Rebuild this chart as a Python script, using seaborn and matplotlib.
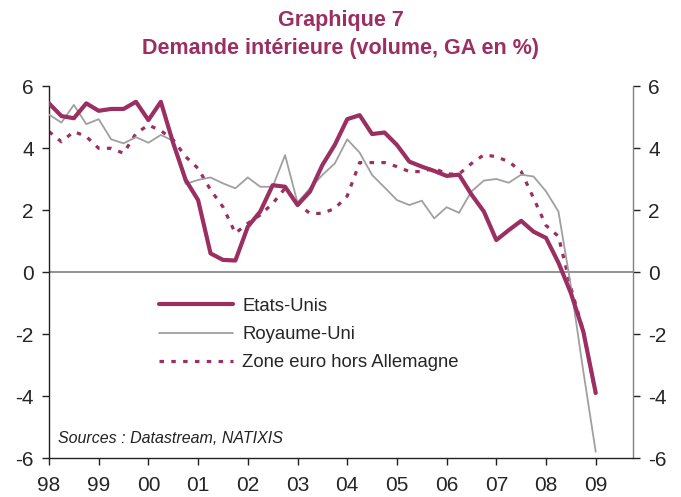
import numpy as np
import pandas as pd
import matplotlib
matplotlib.use("Agg")
import matplotlib.pyplot as plt
import seaborn as sns

# Quarterly data, 1998 Q1 -> 2009 Q1 (GA en %)
quarters = np.arange(45) * 0.25 + 1998.0

etats_unis = [5.44, 5.03, 4.96, 5.44,
              5.20, 5.26, 5.26, 5.49,
              4.90, 5.49, 4.15, 2.97,
              2.32, 0.60, 0.39, 0.37,
              1.46, 1.95, 2.80, 2.75,
              2.16, 2.59, 3.45, 4.10,
              4.93, 5.06, 4.45, 4.50,
              4.10, 3.56, 3.40, 3.26,
              3.10, 3.14, 2.50, 1.95,
              1.03, 1.35, 1.65, 1.30,
              1.10, 0.30, -0.68, -1.92,
              -3.90]

royaume_uni = [5.08, 4.82, 5.39, 4.77,
               4.93, 4.28, 4.15, 4.35,
               4.17, 4.42, 4.23, 2.84,
               2.97, 3.05, 2.86, 2.70,
               3.05, 2.75, 2.75, 3.77,
               2.24, 2.70, 3.13, 3.50,
               4.28, 3.85, 3.13, 2.73,
               2.32, 2.16, 2.30, 1.73,
               2.09, 1.91, 2.60, 2.95,
               3.00, 2.88, 3.14, 3.08,
               2.60, 1.95, -0.45, -3.20,
               -5.80]

zone_euro = [4.53, 4.20, 4.53, 4.37,
             3.99, 3.99, 3.83, 4.47,
             4.74, 4.56, 4.26, 3.72,
             3.34, 2.65, 2.10, 1.25,
             1.57, 1.84, 2.21, 2.70,
             2.20, 1.89, 1.89, 2.05,
             2.45, 3.53, 3.53, 3.53,
             3.40, 3.24, 3.24, 3.35,
             3.16, 3.16, 3.50, 3.78,
             3.72, 3.56, 3.24, 2.38,
             1.50, 1.15, -0.50, -1.90,
             -3.95]

year_ticks = list(range(1998, 2010))
year_labels = ["98", "99", "00", "01", "02", "03", "04", "05", "06", "07", "08", "09"]

MAROON = "#9B2F62"
GREY = "#A0A0A0"

sns.set_style("white")
plt.rcParams["font.family"] = ["Liberation Sans", "DejaVu Sans"]
plt.rcParams["axes.unicode_minus"] = False

df = pd.DataFrame({"t": quarters, "Etats-Unis": etats_unis,
                   "Royaume-Uni": royaume_uni,
                   "Zone euro hors Allemagne": zone_euro})

fig = plt.figure(figsize=(6.81, 4.97), dpi=100)
ax = fig.add_axes([49 / 681, 39 / 497, 584 / 681, 372 / 497])

ax.axhline(0, color="#808080", lw=1.2, zorder=1)

sns.lineplot(data=df, x="t", y="Etats-Unis", ax=ax, color=MAROON, lw=3.0,
             label="Etats-Unis", zorder=4)
sns.lineplot(data=df, x="t", y="Royaume-Uni", ax=ax, color=GREY, lw=1.3,
             label="Royaume-Uni", zorder=3)
sns.lineplot(data=df, x="t", y="Zone euro hors Allemagne", ax=ax, color=MAROON,
             lw=2.3, linestyle=(0, (1.4, 2.3)), label="Zone euro hors Allemagne",
             zorder=2)

ax.set_xlim(1998.0, 2009.75)
ax.set_ylim(-6, 6)
ax.set_xticks(year_ticks)
ax.set_xticklabels(year_labels)
ax.set_yticks([-6, -4, -2, 0, 2, 4, 6])
ax.set_xlabel("")
ax.set_ylabel("")

ax.spines["top"].set_visible(False)
ax.spines["left"].set_color("#222222")
ax.spines["bottom"].set_color("#222222")
ax.spines["right"].set_color("#808080")
for s in ["left", "bottom", "right"]:
    ax.spines[s].set_linewidth(1.0)

ax.tick_params(axis="x", bottom=True, direction="out", length=5, width=1,
               color="#222222", labelsize=15, pad=8)
ax.tick_params(axis="y", left=True, right=True, labelright=True, direction="out",
               length=5, width=1, color="#222222", labelsize=15, pad=6)

leg = ax.legend(loc="upper left", bbox_to_anchor=(0.16, 0.475), frameon=False,
                fontsize=13.3, handlelength=4.0, labelspacing=0.6,
                handletextpad=0.5)

ax.text(0.016, 0.04, "Sources : Datastream, NATIXIS", transform=ax.transAxes,
        fontsize=11.5, style="italic", color="#222222")

fig.text(0.5, 0.958, "Graphique 7", ha="center", va="center",
         fontsize=15.5, fontweight="bold", color=MAROON)
fig.text(0.5, 0.902, "Demande int\u00e9rieure (volume, GA en %)", ha="center",
         va="center", fontsize=15.5, fontweight="bold", color=MAROON)

fig.savefig("out.png", dpi=100)
